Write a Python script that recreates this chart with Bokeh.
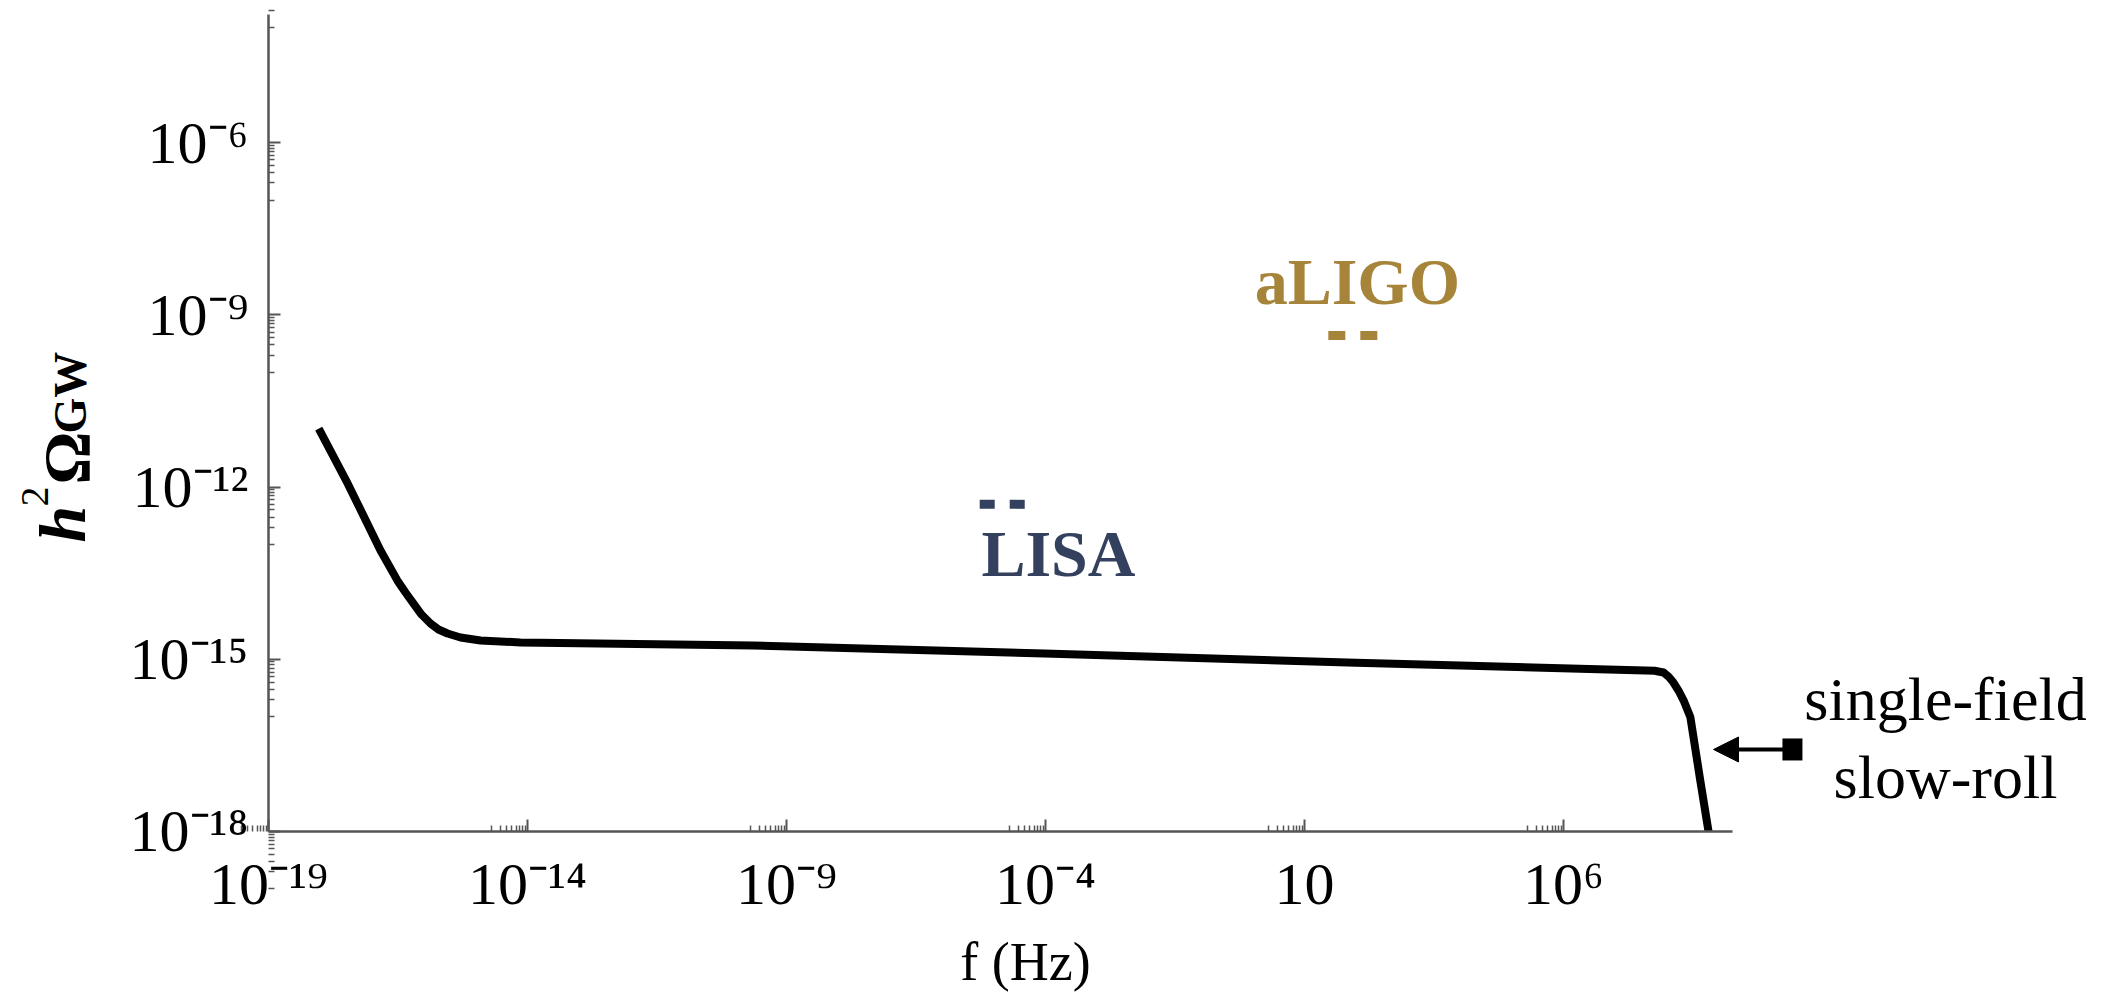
import numpy as np
from bokeh.plotting import figure
from bokeh.models import Range1d, FixedTicker, Label, Arrow, NormalHead, TeeHead
from bokeh.embed import file_html
from bokeh.resources import INLINE

# ---- data (log10 values) ----
curve_log_f = [-18.03, -17.47, -16.84, -16.51, -16.355, -16.20, -16.046, -15.873,
               -15.718, -15.544, -15.293, -14.907, -14.135, -9.65, -4.02, 2.0,
               7.76, 7.93, 8.027, 8.12, 8.22, 8.32, 8.45, 8.64, 8.80]
curve_log_omega = [-10.98, -11.94, -13.10, -13.63, -13.836, -14.03, -14.22, -14.376,
                   -14.481, -14.551, -14.62, -14.672, -14.707, -14.76, -14.90, -15.06,
                   -15.20, -15.23, -15.30, -15.40, -15.544, -15.72, -16.01, -17.11, -18.0]

aligo_log_f = [1.46, 2.41]
aligo_log_omega = [-9.36, -9.36]
lisa_log_f = [-5.27, -4.40]
lisa_log_omega = [-12.30, -12.30]

x_major_exp = [-19, -14, -9, -4, 1, 6]
x_major_labels = ["10⁻¹⁹", "10⁻¹⁴", "10⁻⁹", "10⁻⁴", "10", "10⁶"]
y_major_exp = [-18, -15, -12, -9, -6]
y_major_labels = ["10⁻¹⁸", "10⁻¹⁵", "10⁻¹²", "10⁻⁹", "10⁻⁶"]

# axis extents (log10)
x_axis_exp = (-19.0, 9.26)
y_axis_exp = (-18.0, -3.77)
# whole-canvas view (log10), so that outside texts are not clipped
x_view_exp = (-24.174, 16.869)
y_view_exp = (-20.892, -3.523)

GOLD = "#A6843A"
NAVY = "#33415F"
SERIF = "Liberation Serif"
DY = 0.331   # label baseline correction (decades)
DX = -0.347  # rotated label correction (decades)

x_ticks = [float(f"1e{e}") for e in x_major_exp]
x_minor = [float(f"{k}e{e - 1}") for e in x_major_exp for k in range(2, 10)]
y_ticks = [float(f"1e{e}") for e in y_major_exp]
y_minor = [float(f"{k}e{e - 1}") for e in y_major_exp + [-3] for k in range(1, 10)]

p = figure(width=2126, height=997, x_axis_type="log", y_axis_type="log",
           x_range=Range1d(10 ** x_view_exp[0], 10 ** x_view_exp[1]),
           y_range=Range1d(10 ** y_view_exp[0], 10 ** y_view_exp[1]),
           output_backend="svg", toolbar_location=None, title=None,
           min_border=0, min_border_left=0, min_border_right=0,
           min_border_top=0, min_border_bottom=0)

p.background_fill_color = "white"
p.border_fill_color = "white"
p.outline_line_color = None
p.xgrid.visible = False
p.ygrid.visible = False

xa = p.xaxis[0]
ya = p.yaxis[0]
xa.fixed_location = 10 ** y_axis_exp[0]
ya.fixed_location = 10 ** x_axis_exp[0]
xa.bounds = (10 ** x_axis_exp[0], 10 ** x_axis_exp[1])
ya.bounds = (10 ** y_axis_exp[0], 10 ** y_axis_exp[1])

xa.ticker = FixedTicker(ticks=x_ticks, minor_ticks=x_minor)
ya.ticker = FixedTicker(ticks=y_ticks, minor_ticks=y_minor)
xa.major_label_overrides = dict(zip(x_ticks, x_major_labels))
ya.major_label_overrides = dict(zip(y_ticks, y_major_labels))

for ax in (xa, ya):
    ax.axis_line_color = "#555555"
    ax.axis_line_width = 2.5
    ax.major_tick_line_color = "#555555"
    ax.major_tick_line_width = 2
    ax.minor_tick_line_color = "#555555"
    ax.minor_tick_line_width = 1.5
    ax.major_tick_in = 12
    ax.major_tick_out = 0
    ax.minor_tick_in = 6
    ax.minor_tick_out = 0
    ax.major_label_text_font = SERIF
    ax.major_label_text_font_size = "60px"
    ax.major_label_text_color = "black"
xa.major_label_standoff = 20
ya.major_label_standoff = 20

# main curve
p.line(10 ** np.array(curve_log_f), 10 ** np.array(curve_log_omega),
       line_width=8, line_color="black", line_join="round")

# detector markers
p.line(10 ** np.array(aligo_log_f), 10 ** np.array(aligo_log_omega),
       line_width=9, line_color=GOLD, line_dash="17 15")
p.line(10 ** np.array(lisa_log_f), 10 ** np.array(lisa_log_omega),
       line_width=9, line_color=NAVY, line_dash="15 15")

p.add_layout(Label(x=10 ** 2.02, y=10 ** (-8.75 + DY), text="aLIGO", text_align="center",
                   text_baseline="alphabetic", text_font=SERIF, text_font_style="bold",
                   text_font_size="66px", text_color=GOLD))
p.add_layout(Label(x=10 ** -3.75, y=10 ** (-13.49 + DY), text="LISA", text_align="center",
                   text_baseline="alphabetic", text_font=SERIF, text_font_style="bold",
                   text_font_size="66px", text_color=NAVY))

# arrow + right annotation
p.add_layout(Arrow(end=NormalHead(size=25, fill_color="black", line_color="black", line_width=1),
                   start=TeeHead(size=22, line_width=20, line_color="black"),
                   x_start=10 ** 10.42, y_start=10 ** -16.571,
                   x_end=10 ** 8.896, y_end=10 ** -16.571,
                   line_width=4, line_color="black"))
for txt, ly in (("single-field", -16.031), ("slow-roll", -17.373)):
    p.add_layout(Label(x=10 ** 13.375, y=10 ** (ly + DY), text=txt,
                       text_align="center", text_baseline="alphabetic",
                       text_font=SERIF, text_font_size="62px", text_color="black"))

# x axis label
p.add_layout(Label(x=10 ** -4.386, y=10 ** (-20.60 + DY), text="f (Hz)",
                   text_align="center", text_baseline="alphabetic",
                   text_font=SERIF, text_font_size="54px", text_color="black"))

# y axis label h^2 Omega_GW (rotated pieces, bottom to top)
ypieces = [("h", -22.629, -12.965, "66px", "bold italic"),
           ("2", -23.170, -12.338, "40px", "normal"),
           ("Ω", -22.552, -11.955, "66px", "bold"),
           ("GW", -22.475, -11.066, "46px", "bold")]
for txt, lx, ly, fs, st in ypieces:
    p.add_layout(Label(x=10 ** (lx + DX), y=10 ** ly, text=txt,
                       angle=np.pi / 2, text_align="left", text_baseline="alphabetic",
                       text_font=SERIF, text_font_size=fs, text_font_style=st,
                       text_color="black"))

open("out.html", "w").write(file_html(p, INLINE))
